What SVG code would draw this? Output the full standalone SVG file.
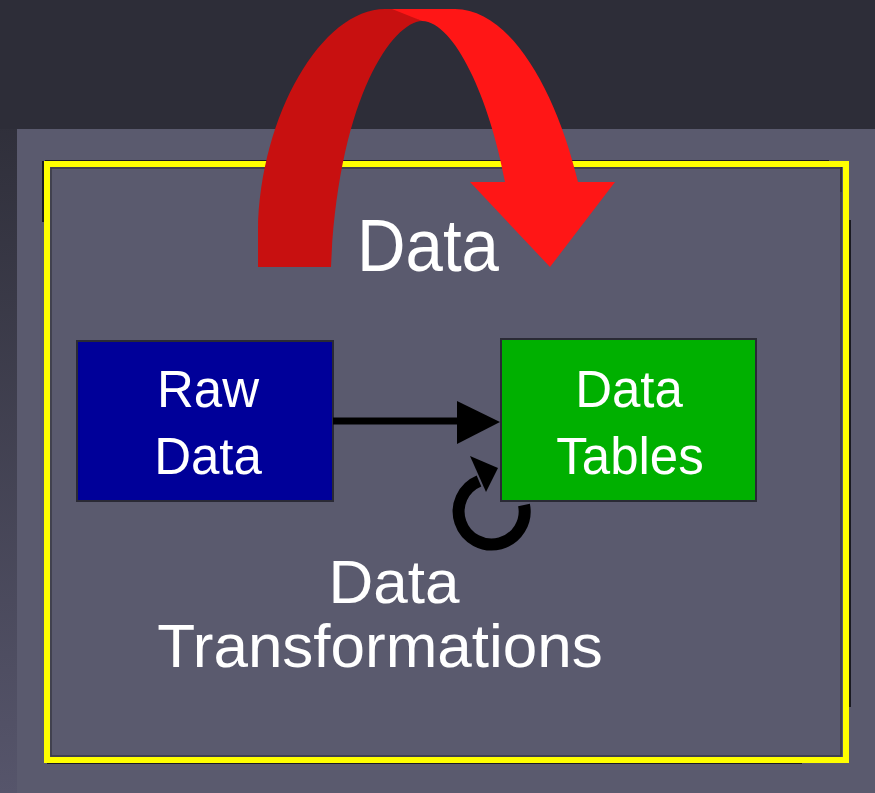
<svg xmlns="http://www.w3.org/2000/svg" width="875" height="793" viewBox="0 0 875 793">
<style>
.lbl{font-family:"Liberation Sans",Arial,sans-serif;fill:#ffffff;text-anchor:middle}
.box{stroke:#2a2a35;stroke-width:2}
.shadow{stroke:#1a1a22;fill:none}
</style>
<defs>
<linearGradient id="bg" x1="0" y1="0" x2="0" y2="1">
<stop offset="0" stop-color="#2d2d38"/>
<stop offset="0.15" stop-color="#2f2f3a"/>
<stop offset="1" stop-color="#56556b"/>
</linearGradient>
</defs>
<rect x="0" y="0" width="875" height="793" fill="url(#bg)"/>
<rect x="0" y="0" width="875" height="129" fill="#2d2d38"/>
<rect x="17" y="129" width="858" height="664" fill="#5a5a6e"/>

<g id="frame">
<line class="shadow" x1="43" y1="161" x2="43" y2="222" stroke-width="2"/>
<line class="shadow" x1="45" y1="161" x2="829" y2="161" stroke-width="2"/>
<line class="shadow" x1="841" y1="164" x2="841" y2="192" stroke-width="2"/>
<line class="shadow" x1="850" y1="220" x2="850" y2="707" stroke-width="2"/>
<line class="shadow" x1="47" y1="763" x2="802" y2="763" stroke-width="2"/>
<rect x="47" y="164" width="799" height="596" fill="none" stroke="#ffff00" stroke-width="6"/>
<rect x="51" y="168" width="790" height="588" fill="none" stroke="#3a3a46" stroke-width="1.5"/>
<text class="lbl" x="428" y="271" font-size="74" textLength="142" lengthAdjust="spacingAndGlyphs">Data</text>
</g>

<g id="raw-data">
<rect class="box" x="77" y="341" width="256" height="160" fill="#000099"/>
<text class="lbl" x="208" y="407" font-size="51">Raw</text>
<text class="lbl" x="208" y="474" font-size="51">Data</text>
</g>

<g id="data-tables">
<rect class="box" x="501" y="339" width="255" height="162" fill="#00b000"/>
<text class="lbl" x="629" y="407" font-size="51">Data</text>
<text class="lbl" x="630" y="474" font-size="51">Tables</text>
</g>

<g id="transformations-label">
<text class="lbl" x="394" y="603" font-size="62">Data</text>
<text class="lbl" x="380" y="667" font-size="62">Transformations</text>
</g>

<g id="connectors">
<line x1="333" y1="421" x2="462" y2="421" stroke="#000" stroke-width="7"/>
<polygon points="457,401 500,422 457,444" fill="#000"/>
<path d="M 524 505 A 33 33 0 1 1 479 481" fill="none" stroke="#000" stroke-width="12"/>
<polygon points="470,456 498,468 486,492" fill="#000"/>
<path d="M 258 267 L 258 230 C 260 115 322 9 385 9 L 398 9 L 422 21 C 392 22 338 100 331 267 Z" fill="#c81010"/>
<path d="M 392 9 L 455 9 C 510 9 556 90 578 182 L 615 182 L 550 267 L 470 182 L 505 182 C 490 100 455 22 422 21 Z" fill="#ff1616"/>
</g>
</svg>
